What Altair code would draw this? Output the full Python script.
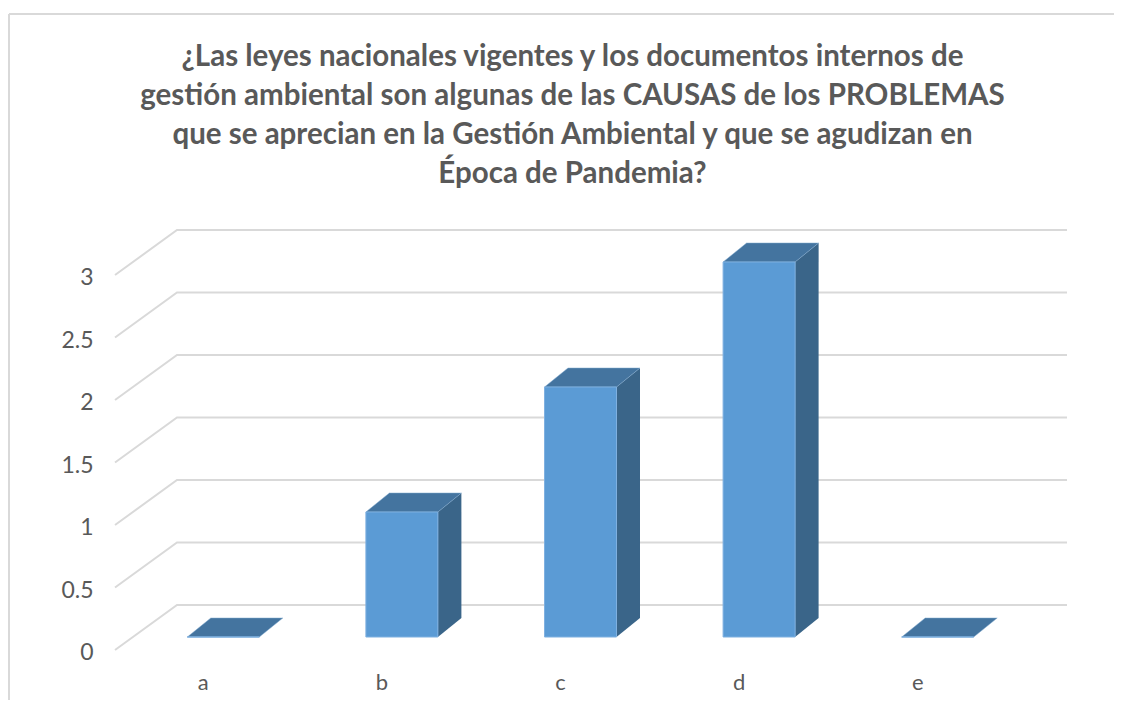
import altair as alt
import pandas as pd

categories = ["a", "b", "c", "d", "e"]
values = [0, 1, 2, 3, 0]
y_ticks = [0, 0.5, 1, 1.5, 2, 2.5, 3]
title_lines = [
    "¿Las leyes nacionales vigentes y los documentos internos de",
    "gestión ambiental son algunas de las CAUSAS de los PROBLEMAS",
    "que se aprecian en la Gestión Ambiental y que se agudizan en",
    "Época de Pandemia?",
]

PX_X, PX_Y = 178.6, 125.0
W, H = 952, 425
X_MAX, Y_MAX = W / PX_X, H / PX_Y
BACK_X, BACK_Y = 62 / PX_X, 45 / PX_Y      # depth of the floor / walls
BAR_X, BAR_Y = 19 / PX_X, 13 / PX_Y        # bar set-back from the front plane
DEPTH_X, DEPTH_Y = 23.5 / PX_X, 19 / PX_Y  # bar depth
BAR_W = 72 / PX_X

GRID = "#D9D9D9"
TEXT = "#595959"
FRONT, SIDE, TOP = "#5B9BD5", "#3A6589", "#44749F"

grid_rows = []
for v in y_ticks:
    grid_rows += [
        dict(x=0, y=v, id=f"d{v}"),
        dict(x=BACK_X, y=v + BACK_Y, id=f"d{v}"),
        dict(x=X_MAX, y=v + BACK_Y, id=f"d{v}"),
    ]
grid = pd.DataFrame(grid_rows)

front_rows, side_rows, top_rows = [], [], []
for i, (c, v) in enumerate(zip(categories, values)):
    left = i + 0.5 + BAR_X - BAR_W / 2
    right = left + BAR_W
    base = BAR_Y
    front_rows.append(dict(c=c, x=left, x2=right, y=base, y2=base + v))
    side_rows += [
        dict(c=c, x=right, y=base, y2=base + v),
        dict(c=c, x=right + DEPTH_X, y=base + DEPTH_Y, y2=base + v + DEPTH_Y),
    ]
    top_rows += [
        dict(c=c, y=base + v, x=left, x2=right),
        dict(c=c, y=base + v + DEPTH_Y, x=left + DEPTH_X, x2=right + DEPTH_X),
    ]

xs = alt.Scale(domain=[0, X_MAX], nice=False, zero=False)
ys = alt.Scale(domain=[0, Y_MAX], nice=False, zero=False)

label_expr = "[" + ",".join(f"'{c}'" for c in categories) + "][floor(datum.value)]"
x_axis = alt.Axis(values=[i + 0.5 for i in range(len(categories))], labelExpr=label_expr,
                  domain=False, ticks=False, grid=False, labelPadding=22, labelFontSize=22,
                  labelColor=TEXT, labelFont="Lato", labelFlush=False, labelAngle=0,
                  labelOffset=-1.5)
y_axis = alt.Axis(values=y_ticks, domain=False, ticks=False, grid=False, labelPadding=22,
                  labelFontSize=23, labelColor=TEXT, labelFont="Lato",
                  labelFlush=False, format="~g", labelOffset=2.5)


def X(field="x:Q", **kw):
    return alt.X(field, scale=xs, title=None, axis=x_axis, **kw)


def Y(field="y:Q", **kw):
    return alt.Y(field, scale=ys, title=None, axis=y_axis, **kw)


grid_layer = alt.Chart(grid).mark_line(color=GRID, strokeWidth=2, clip=False).encode(
    x=X(), y=Y(), detail="id:N", order=alt.Order("x:Q"),
)
side_layer = alt.Chart(pd.DataFrame(side_rows)).mark_area(color=SIDE, clip=False).encode(
    x=X(), y=Y(stack=None), y2="y2:Q", detail="c:N",
)
top_layer = alt.Chart(pd.DataFrame(top_rows)).mark_area(
    color=TOP, orient="horizontal", stroke="#7FA9CF", strokeWidth=0.5, clip=False
).encode(
    y=Y(), x=X(stack=None), x2="x2:Q", detail="c:N",
)
front_layer = alt.Chart(pd.DataFrame(front_rows)).mark_rect(
    color=FRONT, stroke="#7FB0E0", strokeWidth=1, clip=False
).encode(
    x=X(), x2="x2:Q", y=Y(), y2="y2:Q",
)

frame_src = pd.DataFrame({"f": [0]})
frame_top = alt.Chart(frame_src).mark_rule(color=GRID, strokeWidth=2, clip=False).encode(
    x=alt.value(-106), x2=alt.value(1000), y=alt.value(-211))
frame_left = alt.Chart(frame_src).mark_rule(color=GRID, strokeWidth=2, clip=False).encode(
    x=alt.value(-106), y=alt.value(-211), y2=alt.value(480))

chart = alt.layer(frame_top, frame_left, grid_layer, side_layer, top_layer, front_layer).properties(
    width=W, height=H,
    title=alt.TitleParams(text=title_lines, font="Lato", fontSize=29.5, fontWeight="bold",
                          color=TEXT, lineHeight=39, anchor="middle", dx=-18.5, offset=-176),
    autosize=alt.AutoSizeParams(type="none"),
    padding={"left": 107, "top": 217, "right": 47, "bottom": 50},
    background="white",
).configure_view(stroke=None)

chart.save("out.html", embed_options={"renderer": "svg", "actions": False})
